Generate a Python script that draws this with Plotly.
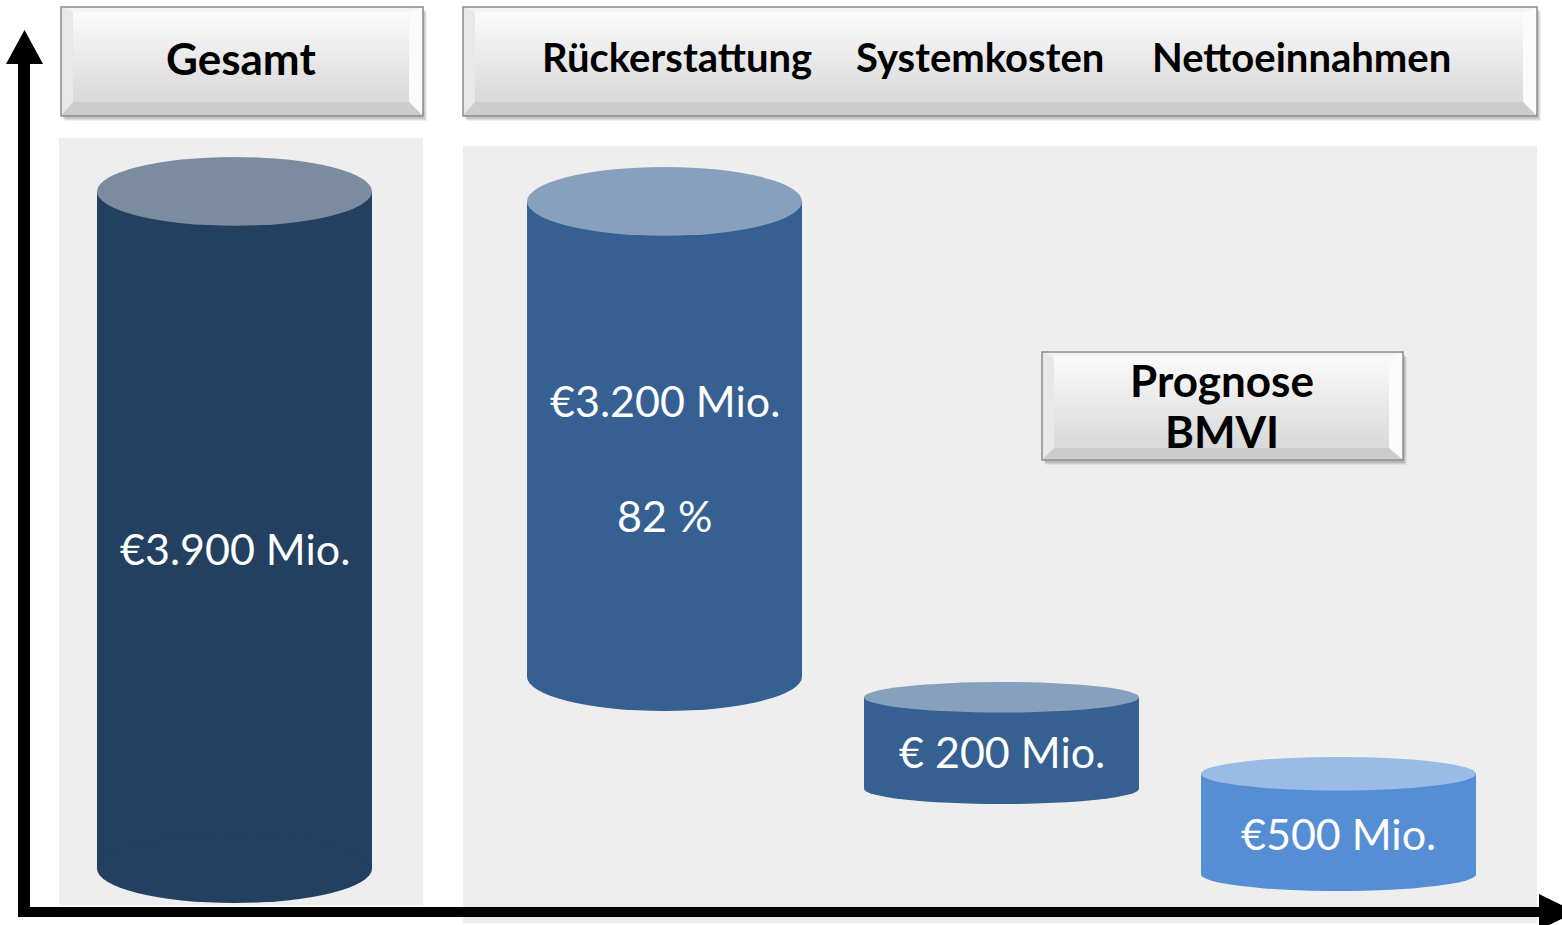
import plotly.graph_objects as go

# ---------------- data ----------------
categories = ["Gesamt", "Rückerstattung", "Systemkosten", "Nettoeinnahmen"]
value_labels = ["€3.900 Mio.", "€3.200 Mio.", "€ 200 Mio.", "€500 Mio."]
share_labels = ["", "82 %", "", ""]
# drawn levels of each cylinder (bottom / top of the shape), in axis units
level_bottom = [45, 1005, 540, 105]
level_top = [3775, 3725, 1150, 775]
note_lines = ["Prognose", "BMVI"]

# ---------------- styling / layout constants ----------------
W, H = 1562, 925
FONT = "Lato"
body_colors = ["#244061", "#366092", "#366092", "#558ED5"]
top_colors = ["#7C8CA0", "#86A0BE", "#86A0BE", "#99BBE6"]
PANEL = "#EEEEEE"

X_UNIT_PX = 337.0
GROUP_GAP = 0.276
BAR_W = 0.816
X0_PX = 234.5
X_RANGE = [-X0_PX / X_UNIT_PX, (W - X0_PX) / X_UNIT_PX]
Y_PER_PX = 5.0
BASE_PX = 912
Y_RANGE = [-(H - BASE_PX) * Y_PER_PX, BASE_PX * Y_PER_PX]
TWO_LINE_GAP_PX = 115


def px(x):
    return x / W


def py(y):
    return 1 - y / H


xpos = [i + (GROUP_GAP if i > 0 else 0) for i in range(len(categories))]

shapes = []


def rect(x0, y0, x1, y1, fill, layer="above", line_color=None, line_w=0):
    shapes.append(dict(type="rect", xref="paper", yref="paper",
                       x0=px(x0), x1=px(x1), y0=py(y1), y1=py(y0),
                       fillcolor=fill, layer=layer,
                       line=dict(width=line_w, color=line_color or fill)))


def poly(points, fill, layer="above"):
    d = "M " + " L ".join(f"{px(a):.5f},{py(b):.5f}" for a, b in points) + " Z"
    shapes.append(dict(type="path", xref="paper", yref="paper", path=d,
                       fillcolor=fill, layer=layer, line=dict(width=0)))


def lerp_gray(a, b, t):
    v = round(a + (b - a) * t)
    return f"rgb({v},{v},{v})"


def bevel_box(x0, y0, x1, y1, L=12, T=5, R=14, B=14):
    for k, a in enumerate([0.10, 0.08, 0.06]):
        o = k + 2
        rect(x0 + o, y0 + o + 1, x1 + o, y1 + o + 1, f"rgba(0,0,0,{a})")
    rect(x0, y0, x1, y1, "#e4e4e4")
    n = 16
    ix0, iy0, ix1, iy1 = x0 + L, y0 + T, x1 - R, y1 - B
    for k in range(n):
        ya = iy0 + (iy1 - iy0) * k / n
        yb = iy0 + (iy1 - iy0) * (k + 1) / n + 0.6
        rect(ix0, ya, ix1, yb, lerp_gray(249, 218, k / (n - 1)))
    poly([(x0, y0), (x1, y0), (ix1, iy0), (ix0, iy0)], "#f3f3f3")
    poly([(x0, y0), (ix0, iy0), (ix0, iy1), (x0, y1)], "#e8e8e8")
    poly([(x1, y0), (x1, y1), (ix1, iy1), (ix1, iy0)], "#fbfbfb")
    poly([(x0, y1), (x1, y1), (ix1, iy1), (ix0, iy1)], "#cccccc")
    shapes.append(dict(type="rect", xref="paper", yref="paper",
                       x0=px(x0), x1=px(x1), y0=py(y1), y1=py(y0),
                       layer="above", line=dict(width=1.5, color="#8c8c8c")))


# background panels
rect(59, 138, 423, 905, PANEL, layer="below")
rect(463, 146, 1537, 923, PANEL, layer="below")

# cylinders: bodies as bars, end caps as ellipses
px_per_x = W / (X_RANGE[1] - X_RANGE[0])
px_per_y = H / (Y_RANGE[1] - Y_RANGE[0])
body_base, body_h, ell_h, text_y = [], [], [], []
for b, t in zip(level_bottom, level_top):
    w_px = BAR_W * px_per_x
    h_px = (t - b) * px_per_y
    e = 0.25 * min(w_px, h_px) / px_per_y
    ell_h.append(e)
    body_base.append(b + e / 2)
    body_h.append((t - e / 2) - (b + e / 2))
    text_y.append((t - e + b) / 2 + 0.23 * e)

fig = go.Figure()
fig.add_trace(go.Bar(x=xpos, y=body_h, base=body_base, width=BAR_W,
                     marker=dict(color=body_colors, line=dict(width=0)),
                     hoverinfo="skip", showlegend=False))

for i in range(len(categories)):
    x0, x1 = xpos[i] - BAR_W / 2, xpos[i] + BAR_W / 2
    b, t, e = level_bottom[i], level_top[i], ell_h[i]
    shapes.append(dict(type="circle", xref="x", yref="y", x0=x0, x1=x1,
                       y0=b, y1=b + e, fillcolor=body_colors[i],
                       line=dict(width=0), layer="above"))
    shapes.append(dict(type="circle", xref="x", yref="y", x0=x0, x1=x1,
                       y0=t - e, y1=t, fillcolor=top_colors[i],
                       line=dict(width=0), layer="above"))

# axis arrows
shapes.append(dict(type="line", xref="paper", yref="paper", x0=px(24), x1=px(24),
                   y0=py(917), y1=py(62), line=dict(color="black", width=12),
                   layer="above"))
poly([(6, 64), (43, 64), (24.5, 30)], "black")
shapes.append(dict(type="line", xref="paper", yref="paper", x0=px(18), x1=px(1541),
                   y0=py(912), y1=py(912), line=dict(color="black", width=10),
                   layer="above"))
poly([(1539, 894), (1539, 930), (1576, 912)], "black")

# header boxes
bevel_box(61, 7, 423, 116)
bevel_box(463, 7, 1537, 116)
bevel_box(1042, 352, 1403, 460, L=12, T=5, R=14, B=12)

annotations = []
VAL_FONT = dict(family=FONT, size=43, color="white")
for i in range(len(categories)):
    if share_labels[i]:
        annotations.append(dict(x=xpos[i], y=text_y[i], xref="x", yref="y",
                                text=value_labels[i], showarrow=False,
                                yshift=TWO_LINE_GAP_PX / 2, font=VAL_FONT,
                                xanchor="center", yanchor="middle"))
        annotations.append(dict(x=xpos[i], y=text_y[i], xref="x", yref="y",
                                text=share_labels[i], showarrow=False,
                                yshift=-TWO_LINE_GAP_PX / 2, font=VAL_FONT,
                                xanchor="center", yanchor="middle"))
    else:
        annotations.append(dict(x=xpos[i], y=text_y[i], xref="x", yref="y",
                                text=value_labels[i], showarrow=False,
                                font=VAL_FONT, xanchor="center", yanchor="middle"))

BIG_HEAD = dict(family=FONT, size=44, color="black")
SMALL_HEAD = dict(family=FONT, size=40, color="black")


def head(text, x, y, font):
    annotations.append(dict(x=px(x), y=py(y), xref="paper", yref="paper",
                            text="<b>" + text + "</b>", showarrow=False,
                            font=font, xanchor="center", yanchor="middle"))


head(categories[0], 241, 58, BIG_HEAD)
for name, cx in zip(categories[1:], [677, 980, 1301]):
    head(name, cx, 56.5, SMALL_HEAD)
for line, cy in zip(note_lines, [380, 431]):
    head(line, 1222, cy, BIG_HEAD)

fig.update_layout(
    width=W, height=H,
    margin=dict(l=0, r=0, t=0, b=0, pad=0),
    paper_bgcolor="white", plot_bgcolor="rgba(0,0,0,0)",
    xaxis=dict(range=X_RANGE, visible=False, fixedrange=True),
    yaxis=dict(range=Y_RANGE, visible=False, fixedrange=True),
    shapes=shapes, annotations=annotations,
    showlegend=False, font=dict(family=FONT),
)

fig.write_html("out.html", config=dict(displayModeBar=False),
               post_script="document.body.style.margin='0';document.body.style.overflow='hidden';")
